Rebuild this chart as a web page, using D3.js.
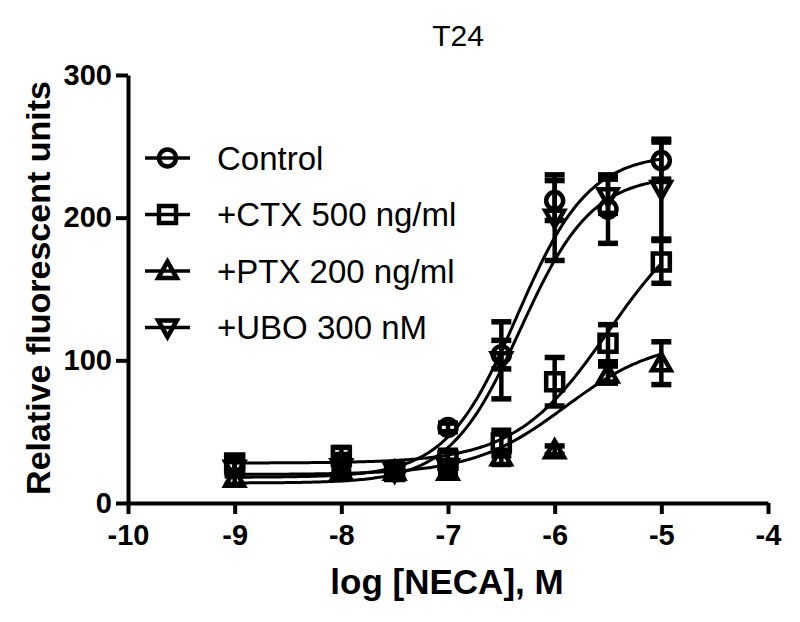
<!DOCTYPE html>
<html><head><meta charset="utf-8">
<script src="https://cdn.jsdelivr.net/npm/d3@7"></script>
<style>body{margin:0;background:#fff}svg{display:block}</style>
</head><body>
<svg id="c" width="800" height="622"></svg>
<script>
// ---- data ----
const logDose = [-9, -8, -7.5, -7, -6.5, -6, -5.5, -5];
const seriesNames = ["Control", "+CTX 500 ng/ml", "+PTX 200 ng/ml", "+UBO 300 nM"];
const seriesSymbols = ["circle", "square", "triangle", "triangleDown"];
const controlMean = [25, 28, 22, 53, 104, 212, 206, 240];
const controlErr  = [5, 6, 5, 3, 10, 14, 24, 13];
const ctxMean = [28, 33, 22, 30, 42, 85, 112, 169];
const ctxErr  = [5, 6, 5, 7, 9, 17, 13, 15];
const ptxMean = [17, 22, 22, 22, 32, 37, 90, 98];
const ptxErr  = [4, 4, 4, 4, 5, 3, 6, 15];
const uboMean = [24, 25, 22, 25, 100, 200, 215, 220];
const uboErr  = [5, 5, 5, 5, 27, 30, 12, 35];
// fitted curve parameters: bottom, top, logEC50, hill
const fitBottom = [18, 28, 20, 14];
const fitTop    = [245, 212, 115, 230];
const fitLogEC50= [-6.35, -5.5, -5.9, -6.32];
const fitHill   = [1.3, 1.0, 1.0, 1.3];
const xTicks = [-10, -9, -8, -7, -6, -5, -4];
const yTicks = [0, 100, 200, 300];
const titleText = "T24";
const xTitle = "log [NECA], M";
const yTitle = "Relative fluorescent units";

const means = [controlMean, ctxMean, ptxMean, uboMean];
const errs = [controlErr, ctxErr, ptxErr, uboErr];

const svg = d3.select("#c");
const x = d3.scaleLinear().domain([-10, -4]).range([128, 768]);
const y = d3.scaleLinear().domain([0, 300]).range([503, 75]);
const font = "'Liberation Sans', Arial, Helvetica, sans-serif";

// axes
const xAxis = svg.append("g").attr("transform", "translate(0,503)")
  .call(d3.axisBottom(x).tickValues(xTicks).tickFormat(d3.format("d")).tickSize(11).tickSizeOuter(0));
const yAxis = svg.append("g").attr("transform", "translate(128,0)")
  .call(d3.axisLeft(y).tickValues(yTicks).tickSize(12).tickSizeOuter(0));
[xAxis, yAxis].forEach(a => {
  a.select(".domain").attr("stroke", "#000").attr("stroke-width", 4);
  a.selectAll(".tick line").attr("stroke", "#000").attr("stroke-width", 4);
  a.selectAll(".tick text").attr("fill", "#000").style("font-family", font)
    .style("font-size", "29px").style("font-weight", "bold");
});
xAxis.selectAll(".tick text").attr("dy", "0.95em").text(d => d < 0 ? "-" + Math.abs(d) : d);
yAxis.selectAll(".tick text").attr("dx", "-1px");

// titles
svg.append("text").attr("x", 458).attr("y", 46).attr("text-anchor", "middle")
  .style("font-family", font).style("font-size", "30px").text(titleText);
svg.append("text").attr("x", 447).attr("y", 594).attr("text-anchor", "middle")
  .style("font-family", font).style("font-size", "35px").style("font-weight", "bold").text(xTitle);
svg.append("text").attr("transform", "translate(50,288) rotate(-90)").attr("text-anchor", "middle")
  .style("font-family", font).style("font-size", "34px").style("font-weight", "bold").text(yTitle);

// symbols
function symPath(type, s) {
  if (type === "circle") return null;
  if (type === "square") return `M${-s},${-s}H${s}V${s}H${-s}Z`;
  const h = s * 1.1;
  if (type === "triangle") return `M0,${-h}L${h},${h*0.75}L${-h},${h*0.75}Z`;
  return `M0,${h}L${h},${-h*0.75}L${-h},${-h*0.75}Z`;
}
function drawSymbol(g, type, cx, cy) {
  if (type === "circle") {
    g.append("circle").attr("cx", cx).attr("cy", cy).attr("r", 8.5)
      .attr("fill", "none").attr("stroke", "#000").attr("stroke-width", 4.5);
  } else {
    g.append("path").attr("transform", `translate(${cx},${cy})`).attr("d", symPath(type, 8.5))
      .attr("fill", "none").attr("stroke", "#000").attr("stroke-width", 4.5).attr("stroke-linejoin", "miter");
  }
}

// curves
const xs = d3.range(-9, -4.999, 0.02);
const line = d3.line().x(d => x(d[0])).y(d => y(d[1]));
seriesNames.forEach((n, i) => {
  const pts = xs.map(v => [v, fitBottom[i] + (fitTop[i] - fitBottom[i]) / (1 + Math.pow(10, (fitLogEC50[i] - v) * fitHill[i]))]);
  svg.append("path").attr("d", line(pts)).attr("fill", "none").attr("stroke", "#000").attr("stroke-width", 3);
});

// error bars and markers
seriesNames.forEach((n, i) => {
  const g = svg.append("g");
  logDose.forEach((d, j) => {
    const m = means[i][j], e = errs[i][j];
    const cx = x(d);
    g.append("line").attr("x1", cx).attr("x2", cx).attr("y1", y(m + e)).attr("y2", y(m - e))
      .attr("stroke", "#000").attr("stroke-width", 4.5);
    [m + e, m - e].forEach(v => g.append("line").attr("x1", cx - 10).attr("x2", cx + 10)
      .attr("y1", y(v)).attr("y2", y(v)).attr("stroke", "#000").attr("stroke-width", 5.5));
    drawSymbol(g, seriesSymbols[i], cx, y(m));
  });
});

// legend
const leg = svg.append("g");
seriesNames.forEach((n, i) => {
  const ly = 158 + i * 56.5;
  leg.append("line").attr("x1", 145).attr("x2", 190).attr("y1", ly).attr("y2", ly)
    .attr("stroke", "#000").attr("stroke-width", 3.5);
  drawSymbol(leg, seriesSymbols[i], 167.5, ly);
  leg.append("text").attr("x", 217).attr("y", ly).attr("dy", "0.36em")
    .style("font-family", font).style("font-size", "33px").text(n);
});
</script>
</body></html>
